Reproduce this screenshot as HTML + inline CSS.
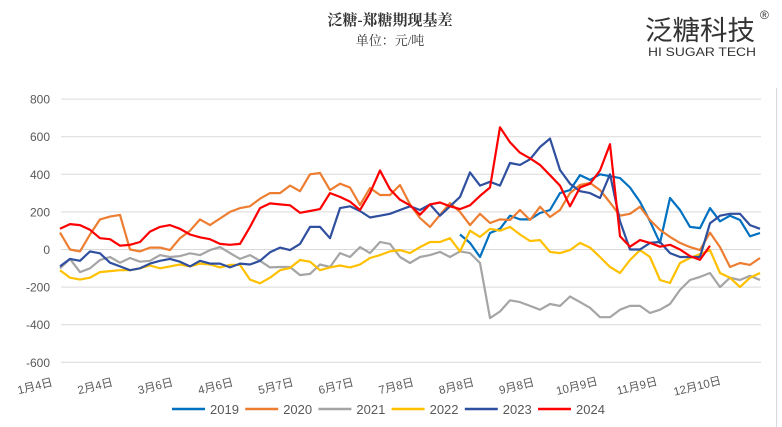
<!DOCTYPE html>
<html><head><meta charset="utf-8"><style>
body{margin:0;background:#fff;}
svg{display:block;font-family:"Liberation Sans","Noto Sans CJK SC",sans-serif;}
</style></head><body>
<svg id="chart" width="782" height="427" viewBox="0 0 782 427">
<text x="390" y="25" text-anchor="middle" font-size="15" font-weight="bold" fill="#333" font-family="'Liberation Serif','Noto Serif CJK SC',serif">泛糖-郑糖期现基差</text>
<text x="390" y="45" text-anchor="middle" font-size="13" fill="#333" font-family="'Liberation Serif','Noto Serif CJK SC',serif">单位：元/吨</text>
<text x="645" y="40" font-size="27" fill="#333" font-family="'Noto Sans CJK SC',sans-serif" textLength="110" lengthAdjust="spacingAndGlyphs">泛糖科技</text>
<text x="760" y="19" font-size="12" fill="#333">®</text>
<text x="648" y="56" font-size="12" fill="#333" textLength="108" lengthAdjust="spacingAndGlyphs">HI SUGAR TECH</text>
<line x1="776.5" y1="88" x2="776.5" y2="427" stroke="#D9D9D9"/>
<g id="grid"></g><g id="series"></g><g id="xlabels"></g><g id="legend"></g>
</svg>
<script>
const yTicks=[800,600,400,200,0,-200,-400,-600];
const xLabels=["1月4日","2月4日","3月6日","4月6日","5月7日","6月7日","7月8日","8月8日","9月8日","10月9日","11月9日","12月10日"];
const seriesNames=["2019","2020","2021","2022","2023","2024"];
const seriesColors=["#0070C0","#ED7D31","#A5A5A5","#FFC000","#2F4F9F","#FF0000"];
const seriesStart=[40,0,0,0,0,0];
const s2019=[80,35,-40,88,110,180,160,160,194,210,300,316,396,370,400,390,380,330,253,150,35,274,210,120,114,220,150,180,157,70,88];
const s2020=[90,0,-10,80,160,175,184,0,-10,10,10,-3,60,100,160,130,165,200,220,230,270,300,300,340,310,400,407,316,350,330,237,327,290,290,343,240,167,120,184,247,200,130,190,141,160,157,210,157,227,173,210,300,343,354,316,250,180,190,227,157,104,67,35,13,-3,90,13,-93,-72,-82,-45];
const s2021=[-100,-50,-120,-100,-56,-40,-70,-45,-65,-60,-30,-40,-35,-20,-30,-3,13,-19,-50,-30,-60,-95,-93,-93,-136,-130,-80,-93,-19,-40,13,-19,40,30,-40,-72,-40,-30,-13,-40,-10,-19,-72,-365,-330,-270,-280,-300,-320,-290,-300,-250,-280,-310,-360,-360,-320,-300,-300,-338,-320,-290,-215,-162,-146,-125,-200,-150,-162,-140,-162];
const s2022=[-110,-150,-160,-150,-120,-115,-110,-110,-100,-85,-100,-90,-80,-90,-75,-80,-95,-82,-82,-160,-180,-150,-110,-98,-56,-65,-110,-95,-85,-95,-80,-45,-30,-10,-3,-19,13,40,40,60,-10,100,67,110,100,120,80,45,50,-13,-19,-3,35,10,-40,-93,-125,-56,-3,-40,-162,-178,-72,-45,-25,-3,-125,-150,-200,-150,-125];
const s2023=[-90,-50,-60,-10,-20,-70,-90,-110,-100,-75,-60,-50,-65,-90,-60,-75,-75,-95,-75,-80,-60,-15,10,-3,30,120,120,60,220,230,205,170,180,190,210,230,210,240,180,230,280,410,340,360,340,460,450,480,545,590,423,350,310,300,274,400,150,0,0,35,40,-19,-40,-40,-40,140,180,190,190,130,110];
const s2024=[110,135,130,105,60,55,20,25,40,95,120,130,110,80,65,55,30,25,30,120,220,245,240,235,195,205,215,300,280,255,210,300,420,320,265,235,185,240,250,230,215,235,285,330,650,570,515,485,450,395,340,230,330,350,420,560,70,15,50,35,15,25,0,-35,-55,20];
const allSeries=[s2019,s2020,s2021,s2022,s2023,s2024];
const NS='http://www.w3.org/2000/svg';
const X0=60,X1=760,N=70;
function xScale(i){return X0+i*(X1-X0)/N;}
function yScale(v){return 249.5-v*37.6/200;}
function mk(tag,attrs,parent){const e=document.createElementNS(NS,tag);for(const k in attrs)e.setAttribute(k,attrs[k]);parent.appendChild(e);return e;}
const grid=document.getElementById('grid');
yTicks.forEach(t=>{
  const l=mk('line',{x1:61,x2:761,y1:yScale(t),y2:yScale(t),stroke:'#D9D9D9','stroke-width':1},grid);
  
  
  const tx=mk('text',{x:50,y:yScale(t)+4.5,'text-anchor':'end','font-size':12,fill:'#595959'},grid);
  tx.textContent=t;
  
  
});
const xl=document.getElementById('xlabels');
xLabels.forEach((lab,i)=>{
  const cx=35+i*60.2, cy=390;
  const t=mk('text',{x:cx,y:cy,'text-anchor':'middle','font-size':11.5,fill:'#595959',transform:`rotate(-14 ${cx} ${cy-4})`},xl);
  t.textContent=lab;
  
  
});
const sg=document.getElementById('series');
allSeries.forEach((arr,k)=>{
  const pts=arr.map((v,i)=>xScale(seriesStart[k]+i).toFixed(1)+','+yScale(v).toFixed(1)).join(' ');
  const p=mk('polyline',{points:pts,fill:'none',stroke:seriesColors[k],'stroke-width':2.2,'stroke-linejoin':'round'},sg);
  
  
});
const lg=document.getElementById('legend');
seriesNames.forEach((n,k)=>{
  const x=172+k*73.2;
  const l=mk('line',{x1:x,x2:x+33,y1:409,y2:409,stroke:seriesColors[k],'stroke-width':2.5},lg);
  
  
  const t=mk('text',{x:x+38,y:414,'font-size':13,fill:'#595959'},lg);
  t.textContent=n;
  
  
});
</script>
</body></html>
